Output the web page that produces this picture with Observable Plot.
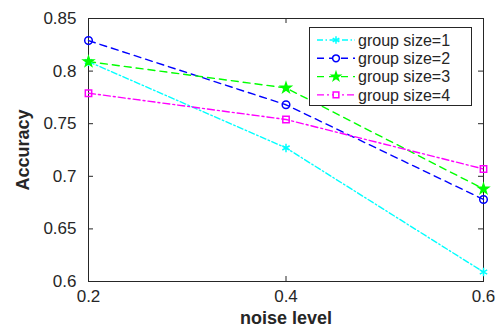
<!DOCTYPE html>
<html><head><meta charset="utf-8">
<script src="https://cdn.jsdelivr.net/npm/d3@7"></script>
<script src="https://cdn.jsdelivr.net/npm/@observablehq/plot@0.6"></script>
<style>
body{margin:0;background:#fff;}
#wrap{position:relative;width:497px;height:328px;}
#wrap svg text{font-family:"Liberation Sans",Arial,sans-serif;}
</style>
</head><body><div id="wrap"></div>
<script>
const noiseLevels = [0.2, 0.4, 0.6];
const seriesNames = ["group size=1", "group size=2", "group size=3", "group size=4"];
const size1 = [0.809, 0.727, 0.609];
const size2 = [0.829, 0.768, 0.678];
const size3 = [0.809, 0.784, 0.688];
const size4 = [0.779, 0.754, 0.707];
const yTicks = [0.6, 0.65, 0.7, 0.75, 0.8, 0.85];
const yTickLabels = ["0.6", "0.65", "0.7", "0.75", "0.8", "0.85"];
const xTicks = [0.2, 0.4, 0.6];
const xTickLabels = ["0.2", "0.4", "0.6"];

const colors = ["#00ffff", "#0000ff", "#00ff00", "#ff00ff"];
const dashes = ["6,2.5,1.5,2.5", "7,5", "7,5", "7,3,2,3"];
const symbols = ["asterisk", "circle", "star", "square"];
const symR = [4, 3.8, 3.1, 3.6];
const allSeries = [size1, size2, size3, size4];

const rows = [];
allSeries.forEach((vals, i) => vals.forEach((v, j) => rows.push({s: seriesNames[i], i, x: noiseLevels[j], y: v})));

const W = 497, H = 328, ml = 88, mr = 14, mt = 18, mb = 47;
const fw = W - ml - mr, fh = H - mt - mb;

const marks = [];
seriesNames.forEach((name, i) => {
  const d = rows.filter(r => r.i === i);
  marks.push(Plot.line(d, {x: "x", y: "y", stroke: colors[i], strokeWidth: 1.4, strokeDasharray: dashes[i]}));
});
seriesNames.forEach((name, i) => {
  const d = rows.filter(r => r.i === i);
  const filled = symbols[i] === "star";
  marks.push(Plot.dot(d, {x: "x", y: "y", symbol: () => symbols[i], r: symR[i],
    stroke: colors[i], fill: filled ? colors[i] : "none", strokeWidth: 1.5}));
});

const chart = Plot.plot({
  width: W, height: H,
  marginLeft: ml, marginRight: mr, marginTop: mt, marginBottom: mb,
  style: {fontSize: "17px", color: "#262626", background: "#fff"},
  x: {domain: [0.2, 0.6]},
  y: {domain: [0.6, 0.85]},
  symbol: {type: "identity"},
  marks: [
    Plot.frame({stroke: "#262626", strokeWidth: 1}),
    Plot.tickY(yTicks, {y: d => d, insetRight: fw - 5, stroke: "#262626"}),
    Plot.tickY(yTicks, {y: d => d, insetLeft: fw - 5, stroke: "#262626"}),
    Plot.tickX(xTicks, {x: d => d, insetTop: fh - 5, stroke: "#262626"}),
    Plot.tickX(xTicks, {x: d => d, insetBottom: fh - 5, stroke: "#262626"}),
    Plot.axisY(yTicks, {tickSize: 0, tickPadding: 12, tickFormat: d => yTickLabels[yTicks.indexOf(d)],
      label: "Accuracy", labelAnchor: "center", labelArrow: "none", labelOffset: 72}),
    Plot.axisX(xTicks, {tickSize: 0, tickPadding: 8, tickFormat: d => xTickLabels[xTicks.indexOf(d)],
      label: "noise level", labelAnchor: "center", labelArrow: "none", labelOffset: 42}),
    ...marks
  ]
});
document.getElementById("wrap").appendChild(chart);

chart.querySelectorAll("g[aria-label='y-axis label'] text, g[aria-label='x-axis label'] text").forEach(t => {
  t.style.fontWeight = "bold"; t.style.fontSize = "18px";
});

// legend
const ns = "http://www.w3.org/2000/svg";
const leg = document.createElementNS(ns, "svg");
leg.setAttribute("width", 164); leg.setAttribute("height", 80);
leg.style.position = "absolute"; leg.style.left = "309px"; leg.style.top = "27px";
leg.innerHTML = `<rect x="0.5" y="0.5" width="162" height="78" fill="#fff" stroke="#262626"/>`;
const sym = {asterisk: d3.symbolAsterisk, circle: d3.symbolCircle, star: d3.symbolStar, square: d3.symbolSquare};
const legR = [3.6, 3.4, 2.6, 3.2];
seriesNames.forEach((name, i) => {
  const cy = 13 + i * 18.3;
  const g = document.createElementNS(ns, "g");
  const r = legR[i];
  const p = d3.symbol(sym[symbols[i]], Math.PI * r * r)();
  g.innerHTML = `<line x1="8" x2="46" y1="${cy}" y2="${cy}" stroke="${colors[i]}" stroke-width="1.4" stroke-dasharray="${dashes[i]}"/>
  <path d="${p}" transform="translate(27,${cy})" stroke="${colors[i]}" stroke-width="1.5" fill="${symbols[i]==='star'?colors[i]:'#fff'}"/>
  <text x="49" y="${cy}" dy="0.36em" font-size="16" fill="#262626">${name}</text>`;
  leg.appendChild(g);
});
document.getElementById("wrap").appendChild(leg);
</script></body></html>
